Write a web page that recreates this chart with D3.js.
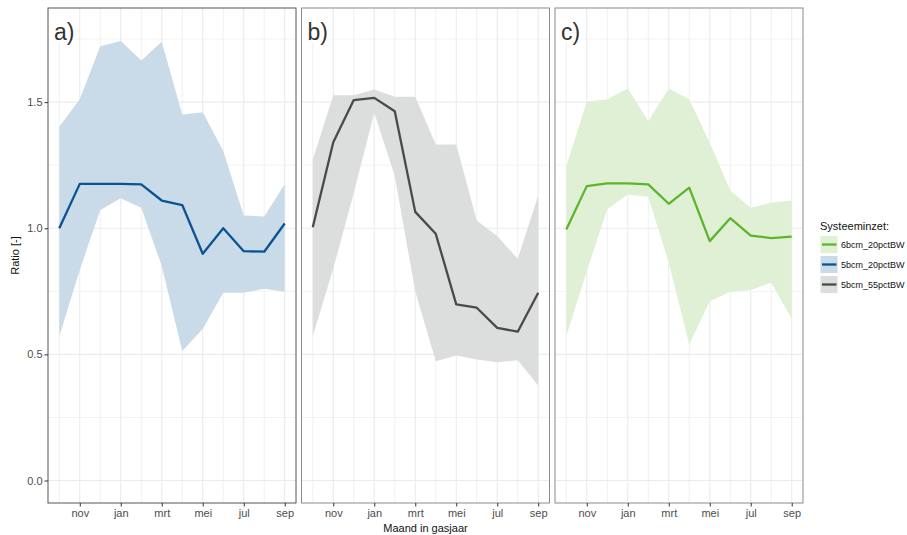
<!DOCTYPE html>
<html>
<head>
<meta charset="utf-8">
<script src="https://cdn.jsdelivr.net/npm/d3@7"></script>
<style>
  body { margin: 0; background: #fff; }
  svg { display: block; }
  text { font-family: "Liberation Sans", Arial, sans-serif; }
</style>
</head>
<body>
<svg id="chart" width="907" height="535"></svg>
<script>
// ---------- DATA ----------
const months = ["okt","nov","dec","jan","feb","mrt","apr","mei","jun","jul","aug","sep"];
const tickMonths = ["nov","jan","mrt","mei","jul","sep"];
const minorMonths = ["okt","dec","feb","apr","jun","aug"];
const yTicks = [0, 0.5, 1.0, 1.5];
const yMinor = [0.25, 0.75, 1.25, 1.75];

// Panel a) 5bcm_20pctBW
const aMid  = [1.00, 1.176, 1.176, 1.176, 1.174, 1.110, 1.092, 0.899, 1.000, 0.909, 0.907, 1.019];
const aLow  = [0.572, 0.835, 1.072, 1.119, 1.081, 0.850, 0.513, 0.601, 0.744, 0.744, 0.760, 0.748];
const aHigh = [1.402, 1.511, 1.722, 1.742, 1.665, 1.739, 1.451, 1.460, 1.306, 1.051, 1.047, 1.174];

// Panel b) 5bcm_55pctBW
const bMid  = [1.004, 1.341, 1.508, 1.517, 1.464, 1.065, 0.978, 0.698, 0.685, 0.605, 0.590, 0.744];
const bLow  = [0.572, 0.840, 1.140, 1.458, 1.207, 0.750, 0.473, 0.496, 0.480, 0.469, 0.477, 0.377];
const bHigh = [1.273, 1.527, 1.527, 1.550, 1.521, 1.521, 1.332, 1.332, 1.031, 0.969, 0.879, 1.130];

// Panel c) 6bcm_20pctBW
const cMid  = [0.995, 1.167, 1.178, 1.178, 1.174, 1.097, 1.161, 0.949, 1.040, 0.971, 0.961, 0.967];
const cLow  = [0.572, 0.830, 1.075, 1.134, 1.125, 0.863, 0.539, 0.711, 0.747, 0.755, 0.784, 0.641];
const cHigh = [1.245, 1.502, 1.511, 1.554, 1.425, 1.554, 1.511, 1.339, 1.150, 1.081, 1.101, 1.110];

const panelLabels = ["a)", "b)", "c)"];
const legendTitle = "Systeeminzet:";
const legendNames = ["6bcm_20pctBW", "5bcm_20pctBW", "5bcm_55pctBW"];
const xTitle = "Maand in gasjaar";
const yTitle = "Ratio [-]";

// ---------- STYLE ----------
const colors = {
  blue:  { line: "#0b5394", band: "#c9dae8" },
  grey:  { line: "#4a4a4a", band: "#dcdddd" },
  green: { line: "#5db52d", band: "#dff0d5" }
};

const panels = [
  { label: panelLabels[0], mid: aMid, low: aLow, high: aHigh, col: colors.blue,  x0: 48 },
  { label: panelLabels[1], mid: bMid, low: bLow, high: bHigh, col: colors.grey,  x0: 301.5 },
  { label: panelLabels[2], mid: cMid, low: cLow, high: cHigh, col: colors.green, x0: 555 }
];
const panelW = 248;
const pTop = 8, pBottom = 503;

const svg = d3.select("#chart");

// y scale (shared)
const yMax = 1.784;
const y = d3.scaleLinear()
  .domain([-0.05 * yMax, 1.05 * yMax])
  .range([pBottom, pTop]);

panels.forEach((p, pi) => {
  const ext = 11 * 0.05;
  const x = d3.scaleLinear()
    .domain([0 - ext, 11 + ext])
    .range([p.x0, p.x0 + panelW]);
  const g = svg.append("g");

  g.append("rect").attr("x", p.x0).attr("y", pTop).attr("width", panelW).attr("height", pBottom - pTop)
    .attr("fill", "#fff");

  // minor grid
  yMinor.forEach(v => {
    g.append("line").attr("x1", p.x0).attr("x2", p.x0 + panelW)
      .attr("y1", y(v)).attr("y2", y(v)).attr("stroke", "#f3f3f3").attr("stroke-width", 1);
  });
  minorMonths.forEach(m => {
    const xi = x(months.indexOf(m));
    g.append("line").attr("x1", xi).attr("x2", xi)
      .attr("y1", pTop).attr("y2", pBottom).attr("stroke", "#f0f0f0").attr("stroke-width", 1);
  });
  // major grid
  yTicks.forEach(v => {
    g.append("line").attr("x1", p.x0).attr("x2", p.x0 + panelW)
      .attr("y1", y(v)).attr("y2", y(v)).attr("stroke", "#ebebeb").attr("stroke-width", 1.1);
  });
  tickMonths.forEach(m => {
    const xi = x(months.indexOf(m));
    g.append("line").attr("x1", xi).attr("x2", xi)
      .attr("y1", pTop).attr("y2", pBottom).attr("stroke", "#ebebeb").attr("stroke-width", 1.1);
  });

  // band
  const area = d3.area()
    .x((d, i) => x(i))
    .y0((d, i) => y(p.low[i]))
    .y1((d, i) => y(p.high[i]));
  g.append("path").datum(months).attr("d", area).attr("fill", p.col.band);

  // line
  const line = d3.line().x((d, i) => x(i)).y(d => y(d));
  g.append("path").datum(p.mid).attr("d", line)
    .attr("fill", "none").attr("stroke", p.col.line).attr("stroke-width", 2.3)
    .attr("stroke-linejoin", "round");

  // panel label with white background
  g.append("rect").attr("x", p.x0 + 1).attr("y", pTop + 1).attr("width", 27).attr("height", 33)
    .attr("fill", "#fff");
  g.append("text").attr("x", p.x0 + 6).attr("y", pTop + 32)
    .attr("font-family", "'Noto Sans', 'DejaVu Sans', sans-serif")
    .attr("font-size", 23).attr("fill", "#333").text(p.label);

  // border
  g.append("rect").attr("x", p.x0).attr("y", pTop).attr("width", panelW).attr("height", pBottom - pTop)
    .attr("fill", "none").attr("stroke", pi === 0 ? "#555" : "#8a8a8a").attr("stroke-width", 1);

  // x axis
  const xAxis = d3.axisBottom(x)
    .tickValues(tickMonths.map(m => months.indexOf(m)))
    .tickFormat(i => months[i])
    .tickSize(3.5).tickPadding(2.5);
  const ax = g.append("g").attr("transform", `translate(0,${pBottom})`).call(xAxis);
  ax.select(".domain").remove();
  ax.selectAll(".tick line").attr("stroke", "#333");
  ax.selectAll(".tick text").attr("font-size", 11).attr("fill", "#4d4d4d")
    .attr("font-family", "'Liberation Sans', Arial, sans-serif");

  if (pi === 0) {
    const yAxis = d3.axisLeft(y).tickValues(yTicks).tickFormat(d3.format(".1f"))
      .tickSize(3.5).tickPadding(2);
    const ay = g.append("g").attr("transform", `translate(${p.x0},0)`).call(yAxis);
    ay.select(".domain").remove();
    ay.selectAll(".tick line").attr("stroke", "#333");
    ay.selectAll(".tick text").attr("font-size", 11).attr("fill", "#4d4d4d")
      .attr("font-family", "'Liberation Sans', Arial, sans-serif");
  }
});

// axis titles
svg.append("text").attr("x", 425.5).attr("y", 532).attr("text-anchor", "middle")
  .attr("font-size", 11).attr("fill", "#111").text(xTitle);
svg.append("text").attr("transform", `translate(19,${(pTop + pBottom) / 2}) rotate(-90)`)
  .attr("text-anchor", "middle").attr("font-size", 11).attr("fill", "#111").text(yTitle);

// legend
const legCols = [colors.green, colors.blue, colors.grey];
const lg = svg.append("g");
lg.append("text").attr("x", 820).attr("y", 230).attr("font-size", 11).attr("fill", "#111").text(legendTitle);
legendNames.forEach((name, i) => {
  const cy = 244.5 + i * 20;
  lg.append("rect").attr("x", 820.5).attr("y", cy - 8.5).attr("width", 17).attr("height", 17)
    .attr("fill", legCols[i].band);
  lg.append("line").attr("x1", 822).attr("x2", 836.5).attr("y1", cy).attr("y2", cy)
    .attr("stroke", legCols[i].line).attr("stroke-width", 2.3);
  lg.append("text").attr("x", 841).attr("y", cy + 3.3).attr("font-size", 9).attr("fill", "#111").text(name);
});
</script>
</body>
</html>
